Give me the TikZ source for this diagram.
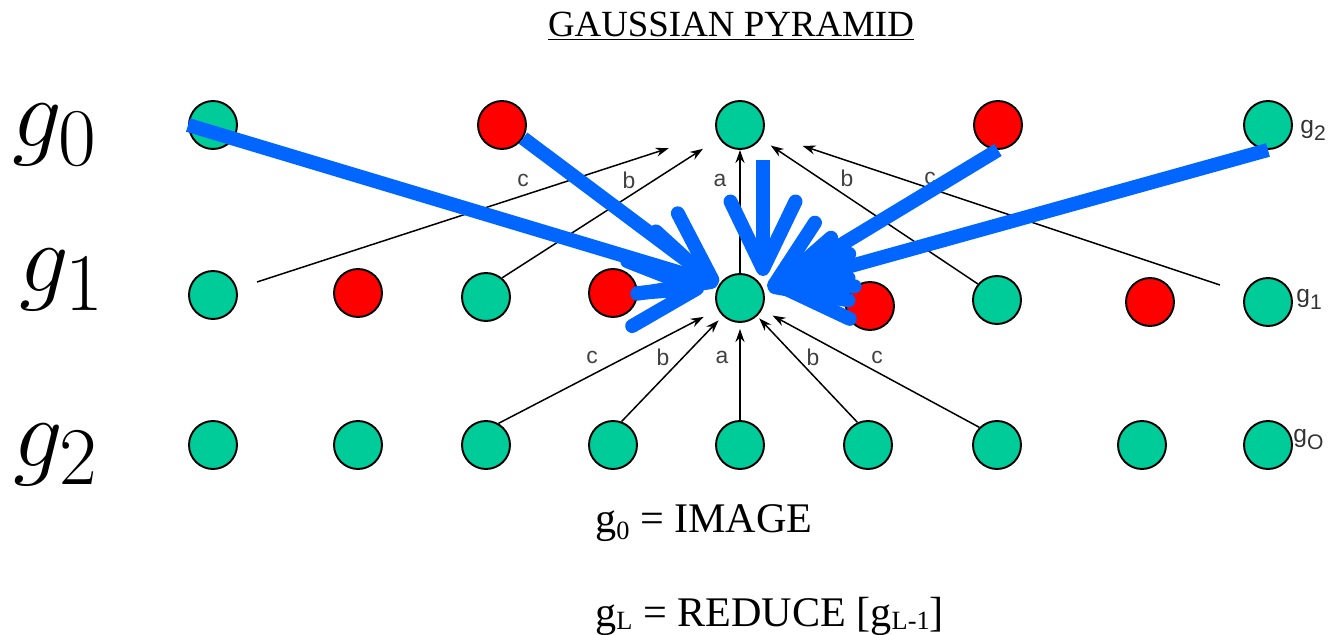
\documentclass[tikz,border=0pt]{standalone}
\usepackage{fontspec}
\setmainfont{Liberation Serif}
\setsansfont{Liberation Sans}
\usetikzlibrary{arrows.meta}
\definecolor{pyrgreen}{RGB}{0,204,153}
\definecolor{pyrred}{RGB}{255,0,0}
\definecolor{pyrblue}{RGB}{0,102,255}
\tikzset{>={Stealth[length=2.6mm,width=1.8mm]}}
\tikzset{
  ball/.style={circle,draw,line width=1.1pt,minimum size=0.96cm,inner sep=0pt},
  wire/.style={->,line width=0.85pt},
  wlbl/.style={font=\sffamily\fontsize{13}{13}\selectfont,inner sep=0pt,text=black!75},
  rowlbl/.style={font=\sffamily\fontsize{14}{14}\selectfont,inner sep=0pt,anchor=base west,text=black!80},
  biglbl/.style={font=\Huge,scale=2.25,inner sep=0pt,anchor=base west},
  eqlbl/.style={font=\fontsize{24}{24}\selectfont,inner sep=0pt,anchor=base west},
  bluearrow/.style={pyrblue,line width=0.28cm,-{Straight Barb[length=1.35cm,width=1.3cm,round]}}
}
\newcommand{\lowsub}[2]{\raisebox{#1}{\fontsize{15}{15}\selectfont #2}}

\begin{document}
\begin{tikzpicture}[x=0.02cm,y=-0.02cm]
    \useasboundingbox (0,0) rectangle (1340,635);

    \node[font=\fontsize{21}{21}\selectfont,inner sep=0pt] (title) at (731,26) {\underline{GAUSSIAN PYRAMID}};

    \node[biglbl] (lg0) at (12,147) {$g_0$};
    \node[biglbl] (lg1) at (19,292) {$g_1$};
    \node[biglbl] (lg2) at (13,466) {$g_2$};

    \foreach \x/\c [count=\i from 0] in {213/pyrgreen,502/pyrred,740/pyrgreen,998/pyrred,1268/pyrgreen}
      \node[ball,fill=\c] (t\i) at (\x,125) {};
    \foreach \x/\y/\c [count=\i from 0] in {213/295/pyrgreen,358/293/pyrred,486/297/pyrgreen,613/293/pyrred,740/298/pyrgreen,870/306/pyrred,997/300/pyrgreen,1150/302/pyrred,1268/302/pyrgreen}
      \node[ball,fill=\c] (m\i) at (\x,\y) {};
    \foreach \x [count=\i from 0] in {213,358,486,613,740,868,997,1142,1268}
      \node[ball,fill=pyrgreen] (b\i) at (\x,445) {};

    \node[rowlbl] (r2) at (1300,133) {g\raisebox{-0.3em}{\fontsize{12}{12}\selectfont 2}};
    \node[rowlbl] (r1) at (1296,302) {g\raisebox{-0.3em}{\fontsize{12}{12}\selectfont 1}};
    \node[rowlbl] (r0) at (1293,442) {g\raisebox{-0.3em}{\fontsize{12}{12}\selectfont O}};

    \coordinate (cl) at (257,282);
    \coordinate (cr) at (1220,285);
    \draw[wire,shorten >=1.0cm] (cl) -- (t2);
    \draw[wire,shorten >=0.38cm] (m2.50) -- (t2);
    \draw[wire] (m4.north) -- (t2.south);
    \draw[wire,shorten >=0.24cm] (m6.140) -- (t2);
    \draw[wire,shorten >=0.82cm] (cr) -- (t2);

    \draw[wire,shorten >=0.32cm] (b2.60) -- (m4);
    \draw[wire,shorten >=0.12cm] (b3.70) -- (m4);
    \draw[wire,shorten >=0.12cm] (b4.north) -- (m4.south);
    \draw[wire,shorten >=0.06cm] (b5.115) -- (m4);
    \draw[wire,shorten >=0.24cm] (b6.135) -- (m4);

    \node[wlbl] (uc1) at (523,180) {c};
    \node[wlbl] (ub1) at (629,180) {b};
    \node[wlbl] (ua) at (720,180) {a};
    \node[wlbl] (ub2) at (847,178) {b};
    \node[wlbl] (uc2) at (930,178) {c};
    \node[wlbl] (lc1) at (592,357) {c};
    \node[wlbl] (lb1) at (663,357) {b};
    \node[wlbl] (la) at (722,357) {a};
    \node[wlbl] (lb2) at (813,357) {b};
    \node[wlbl] (lc2) at (877,357) {c};

    \node[eqlbl] (img) at (595,532) {g\lowsub{-4pt}{0} = IMAGE};
    \node[eqlbl] (red) at (595,626) {g\lowsub{-2pt}{L} = REDUCE [g\lowsub{-2pt}{L-1}]};

    \coordinate (hl) at (718,284);
    \coordinate (hl2) at (704,288);
    \coordinate (hv) at (763,276);
    \coordinate (hr) at (768,289);
    \coordinate (hr2) at (775,287);
    \coordinate (vt) at (763,160);
    \draw[bluearrow] (t0.west) -- (hl);
    \draw[bluearrow] (t1.-32) -- (hl);
    \draw[bluearrow] (vt) -- (hv);
    \draw[bluearrow] (t3.south) -- (hr);
    \draw[bluearrow] (t4.south) -- (hr);
    \draw[bluearrow,line cap=round] (m3.east) -- (hl2);
    \draw[bluearrow,line cap=round] (m5.128) -- (hr2);
\end{tikzpicture}
\end{document}
